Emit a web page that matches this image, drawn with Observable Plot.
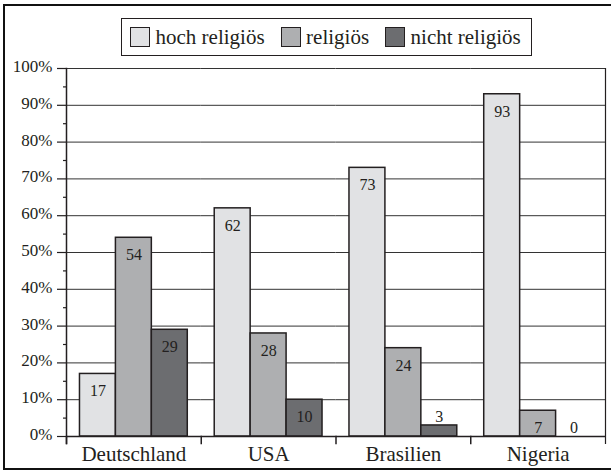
<!DOCTYPE html>
<html lang="de">
<head>
<meta charset="utf-8">
<title>Religiosität nach Ländern</title>
<script src="https://cdn.jsdelivr.net/npm/d3@7"></script>
<script src="https://cdn.jsdelivr.net/npm/@observablehq/plot@0.6"></script>
<style>
  html, body { margin: 0; padding: 0; background: #fff; overflow: hidden; }
  #page { position: relative; width: 611px; height: 475px; overflow: hidden;
          font-family: "Liberation Serif", "DejaVu Serif", serif; color: #231f20; }
  #border { position: absolute; left: 3px; top: 4px; width: 720px; height: 462px;
            border: 2px solid #111; border-right: none; }
  #chart { position: absolute; left: 0; top: 0; }
  #legend { position: absolute; left: 121px; top: 18px; width: 411px; height: 38px;
            box-sizing: border-box; border: 1.5px solid #231f20; background: #fff;
            display: flex; align-items: center; padding-left: 8px; font-size: 21px; line-height: 1; }
  .item { display: flex; align-items: center; margin-right: 16px; white-space: nowrap; }
  .swatch { width: 20px; height: 20px; box-sizing: border-box; border: 1.5px solid #231f20; margin-right: 5.5px; }
  #chart svg text { font-family: "Liberation Serif", "DejaVu Serif", serif; }
</style>
</head>
<body>
<div id="page">
  <div id="border"></div>
  <div id="chart"></div>
  <div id="legend"></div>
</div>
<script>
// Anteil der Bevölkerung nach Religiosität, in Prozent
const countries = ["Deutschland", "USA", "Brasilien", "Nigeria"];
const series = ["hoch religiös", "religiös", "nicht religiös"];
const hochReligioes = [17, 62, 73, 93];
const religioes = [54, 28, 24, 7];
const nichtReligioes = [29, 10, 3, 0];
const yTicks = [0, 10, 20, 30, 40, 50, 60, 70, 80, 90, 100];
const yMinorTicks = [5, 15, 25, 35, 45, 55, 65, 75, 85, 95];
const colours = ["#e1e2e4", "#aeafb1", "#6c6d70"];

const seriesValues = [hochReligioes, religioes, nichtReligioes];
const rows = countries.flatMap((country, i) =>
  series.map((s, j) => ({country, series: s, value: seriesValues[j][i]}))
);

const ink = "#231f20";
const serifFont = '"Liberation Serif", "DejaVu Serif", serif';
const width = 611, height = 475;
const marginTop = 68, marginBottom = 39, marginLeft = 66, marginRight = 6;
const plotHeight = height - marginTop - marginBottom;

const chart = Plot.plot({
  width, height, marginTop, marginRight, marginBottom, marginLeft,
  style: {fontFamily: serifFont, color: ink, background: "transparent"},
  fx: {domain: countries, padding: 0, round: false, label: null},
  x: {domain: series, paddingInner: 0, paddingOuter: 0.375, round: false, axis: null},
  y: {domain: [0, 100], label: null},
  color: {domain: series, range: colours},
  marks: [
    Plot.gridY(yTicks, {stroke: "#333333", strokeOpacity: 1, strokeWidth: 1}),
    Plot.barY(rows, {fx: "country", x: "series", y: "value", fill: "series", stroke: ink, strokeWidth: 1.5}),
    Plot.ruleY([0], {stroke: ink, strokeWidth: 1.5}),
    // value axis line and right border, each reaching a short tick below the baseline
    Plot.frame({anchor: "left", facetAnchor: "left", insetBottom: -7, stroke: ink, strokeWidth: 1.5}),
    Plot.frame({anchor: "right", facetAnchor: "right", insetBottom: -7, stroke: ink, strokeWidth: 1.2}),
    // category separators below the baseline
    Plot.frame({anchor: "left", insetTop: plotHeight, insetBottom: -7, stroke: ink, strokeWidth: 1.5}),
    Plot.axisY(yTicks, {tickSize: 9, fill: "none", stroke: ink, strokeWidth: 1.2, label: null}),
    Plot.axisY(yMinorTicks, {tickSize: 3, fill: "none", stroke: ink, strokeWidth: 1.2, label: null}),
    Plot.axisY(yTicks, {tickSize: 0, tickPadding: 14, dy: -2, fontSize: 17, fill: ink,
                        tickFormat: d => d + "%", label: null}),
    Plot.axisFx({anchor: "bottom", tickSize: 0, tickPadding: 10, fontSize: 21, fill: ink, label: null}),
    // value labels: inside the bar, or just above it when the bar is too short
    Plot.text(rows.filter(d => d.value >= 5), {fx: "country", x: "series", y: "value", text: d => String(d.value),
                                               lineAnchor: "bottom", dy: 22.5, fontSize: 16, fill: ink}),
    Plot.text(rows.filter(d => d.value < 5), {fx: "country", x: "series", y: "value", text: d => String(d.value),
                                              lineAnchor: "bottom", dy: -3.5, fontSize: 16, fill: ink})
  ]
});
document.getElementById("chart").append(chart);

// legend built from the same series and colour lists
const legend = d3.select("#legend");
series.forEach((s, j) => {
  const item = legend.append("div").attr("class", "item");
  item.append("div").attr("class", "swatch").style("background", colours[j]);
  item.append("span").text(s);
});
</script>
</body>
</html>
